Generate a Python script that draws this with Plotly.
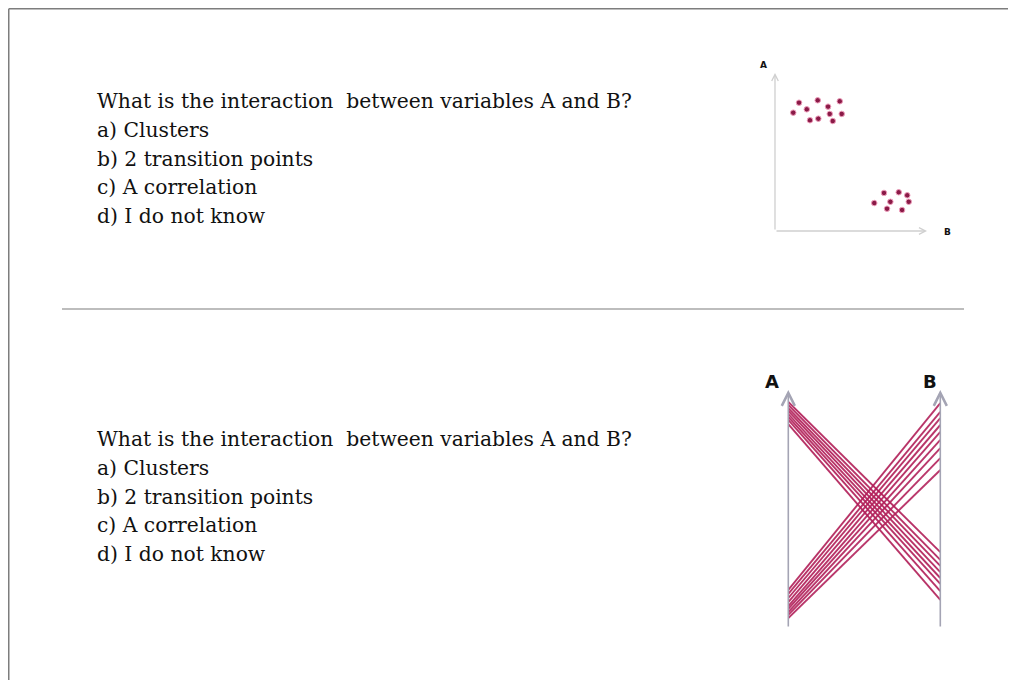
import plotly.graph_objects as go

# the page adds an 8px body margin, so the figure is 8px smaller and
# every reference pixel position is shifted by 8
W, H = 1008, 672
OFF = 8

# question text (same for both panels)
question = "What is the interaction  between variables A and B?"
options = ["a) Clusters", "b) 2 transition points", "c) A correlation", "d) I do not know"]

# scatter panel: values of B (x) and A (y), 0-10 scale
scatter_b = [1.20, 1.58, 2.09, 2.30, 2.81, 2.85, 3.49, 3.60, 3.80, 4.26, 4.39,
             6.53, 7.17, 7.37, 7.59, 8.14, 8.36, 8.70, 8.80]
scatter_a = [7.49, 8.12, 7.70, 7.01, 8.27, 7.11, 7.87, 7.41, 6.96, 8.21, 7.41,
             1.77, 2.41, 1.41, 1.85, 2.45, 1.33, 2.26, 1.85]

# parallel coordinates panel: value on axis A and axis B for each line, 0-10 scale
pc_a_desc = [9.50, 9.37, 9.24, 9.12, 8.99, 8.87, 8.74, 8.57]
pc_b_desc = [3.19, 2.86, 2.61, 2.35, 2.10, 1.85, 1.55, 1.18]
pc_a_asc = [1.60, 1.43, 1.26, 1.09, 0.92, 0.80, 0.67, 0.55, 0.42]
pc_b_asc = [9.45, 9.08, 8.82, 8.53, 8.24, 7.90, 7.56, 7.14, 6.64]


def px(x):
    return (x - OFF) / W


def py(y):
    return 1 - (y - OFF) / H


SERIF = "DejaVu Serif"
TEXT_SIZE = 20.3
LINE_COLOR = "#b3235c"

fig = go.Figure()

# scatter of A vs B
fig.add_trace(go.Scatter(
    x=scatter_b, y=scatter_a, mode="markers", xaxis="x2", yaxis="y2",
    marker=dict(size=5.5, color="#8a1a47", line=dict(width=1, color="#ef9fbc")),
    hoverinfo="skip", showlegend=False))

# parallel coordinates lines
for a, b in list(zip(pc_a_desc, pc_b_desc)) + list(zip(pc_a_asc, pc_b_asc)):
    fig.add_trace(go.Scatter(
        x=[0, 1], y=[a, b], mode="lines", xaxis="x3", yaxis="y3",
        line=dict(color=LINE_COLOR, width=1.9), opacity=0.9,
        hoverinfo="skip", showlegend=False))

annotations = []

# question blocks
for top in (101, 439):
    for i, txt in enumerate([question] + options):
        annotations.append(dict(
            x=px(95), y=py(top + i * 28.8), xref="paper", yref="paper",
            xanchor="left", yanchor="middle", text=txt, showarrow=False,
            font=dict(family=SERIF, size=TEXT_SIZE, color="#111111")))

# scatter axes with arrows
annotations += [
    dict(x=0, y=10, xref="x2", yref="y2", ax=0, ay=158, axref="pixel", ayref="pixel",
         text="", showarrow=True, arrowhead=5, arrowsize=1, arrowwidth=1.3,
         arrowcolor="#cfcfcf", standoff=0),
    dict(x=10, y=0, xref="x2", yref="y2", ax=-152, ay=0, axref="pixel", ayref="pixel",
         text="", showarrow=True, arrowhead=5, arrowsize=1, arrowwidth=1.3,
         arrowcolor="#cfcfcf", standoff=0),
    dict(x=px(763), y=py(65), xref="paper", yref="paper", text="<b>A</b>", showarrow=False,
         xanchor="center", yanchor="middle",
         font=dict(family="DejaVu Sans", size=9, color="#111111")),
    dict(x=px(947), y=py(232), xref="paper", yref="paper", text="<b>B</b>", showarrow=False,
         xanchor="center", yanchor="middle",
         font=dict(family="DejaVu Sans", size=9, color="#111111")),
]

# parallel coordinate axes
for xv, lab, lx in ((0, "A", 772), (1, "B", 930)):
    annotations.append(dict(
        x=xv, y=10, xref="x3", yref="y3", ax=0, ay=238, axref="pixel", ayref="pixel",
        text="", showarrow=True, arrowhead=5, arrowsize=1.6, arrowwidth=1.6,
        arrowcolor="#a4a4b4", standoff=0))
    annotations.append(dict(
        x=px(lx), y=py(381), xref="paper", yref="paper", text="<b>" + lab + "</b>",
        xanchor="center", yanchor="middle", showarrow=False,
        font=dict(family="DejaVu Sans", size=18, color="#111111")))

shapes = [
    # page border
    dict(type="line", xref="paper", yref="paper", x0=px(8.75), x1=1, y0=py(8.75), y1=py(8.75),
         line=dict(color="#7d7d7d", width=1.5)),
    dict(type="line", xref="paper", yref="paper", x0=px(8.75), x1=px(8.75), y0=py(8.75), y1=0,
         line=dict(color="#7d7d7d", width=1.5)),
    # separator
    dict(type="line", xref="paper", yref="paper", x0=px(62), x1=px(964), y0=py(309), y1=py(309),
         line=dict(color="#bdbdbd", width=2)),
]

hidden = dict(visible=False, showgrid=False, zeroline=False, fixedrange=True)
fig.update_layout(
    width=W, height=H, margin=dict(l=0, r=0, t=0, b=0),
    paper_bgcolor="white", plot_bgcolor="rgba(0,0,0,0)",
    xaxis=dict(hidden, domain=[0, 0.01]), yaxis=dict(hidden, domain=[0, 0.01]),
    xaxis2=dict(hidden, domain=[px(775), px(927)], range=[0, 10], anchor="y2"),
    yaxis2=dict(hidden, domain=[py(231), py(73)], range=[0, 10], anchor="x2"),
    xaxis3=dict(hidden, domain=[px(788.3), px(940.3)], range=[0, 1], anchor="y3"),
    yaxis3=dict(hidden, domain=[py(628), py(390)], range=[0, 10], anchor="x3"),
    annotations=annotations, shapes=shapes, showlegend=False)

fig.write_html("out.html")
